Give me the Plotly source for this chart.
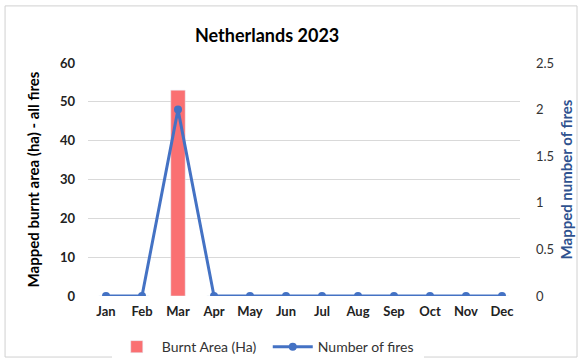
import plotly.graph_objects as go

months = ["Jan", "Feb", "Mar", "Apr", "May", "Jun", "Jul", "Aug", "Sep", "Oct", "Nov", "Dec"]
burnt_area = [0, 0, 53, 0, 0, 0, 0, 0, 0, 0, 0, 0]
num_fires = [0, 0, 2, 0, 0, 0, 0, 0, 0, 0, 0, 0]
left_ticks = [0, 10, 20, 30, 40, 50, 60]
right_ticks = [0, 0.5, 1, 1.5, 2, 2.5]
right_tick_text = ["0", "0.5", "1", "1.5", "2", "2.5"]

FONT = "Lato, 'Open Sans', sans-serif"

fig = go.Figure()
fig.add_trace(go.Bar(x=months, y=burnt_area, name="Burnt Area (Ha)",
                     marker=dict(color="rgb(250,112,114)"), width=0.4, yaxis="y"))
fig.add_trace(go.Scatter(x=months, y=num_fires, name="Number of fires", yaxis="y2",
                         mode="lines+markers",
                         line=dict(color="rgb(68,114,196)", width=3),
                         marker=dict(size=8, color="rgb(68,114,196)")))

fig.update_layout(
    width=582, height=361,
    margin=dict(l=88, r=62, t=63, b=65, autoexpand=False),
    paper_bgcolor="white", plot_bgcolor="white",
    font=dict(family=FONT, color="#222"),
    title=dict(text="<b>Netherlands 2023</b>", x=0.459, xanchor="center", xref="container",
               y=0.9, yref="container", yanchor="middle", automargin=False,
               font=dict(size=18, color="black")),
    showlegend=True,
    legend=dict(orientation="h", x=0.055, xanchor="left", y=-0.219, yanchor="middle",
                font=dict(size=14, color="#333"), itemwidth=40, traceorder="normal",
                entrywidth=101, entrywidthmode="pixels"),
    bargap=0.6,
    xaxis=dict(range=[-0.5, 11.5], showgrid=False, zeroline=False, showline=False, ticks="",
               automargin=False,
               tickfont=dict(size=13, color="#222", family=FONT, weight="bold"),
               ticklabelstandoff=6),
    yaxis=dict(range=[0, 60], tickvals=left_ticks, showgrid=True, gridcolor="#d9d9d9",
               zeroline=False, showline=False, ticks="", automargin=False,
               tickfont=dict(size=13, color="#222", family=FONT, weight="bold"),
               ticklabelstandoff=12,
               title=dict(text="<b>Mapped burnt area (ha) - all fires</b>",
                          font=dict(size=15, color="black"), standoff=16)),
    yaxis2=dict(range=[0, 2.5], tickvals=right_ticks, ticktext=right_tick_text,
                overlaying="y", side="right", showgrid=False, zeroline=False,
                showline=False, ticks="", automargin=False,
                tickfont=dict(size=13, color="#333", family=FONT),
                ticklabelstandoff=15,
                title=dict(text="<b>Mapped number of fires</b>",
                           font=dict(size=15, color="rgb(47,82,143)"), standoff=8)),
)

fig.add_shape(type="rect", xref="paper", yref="paper",
              x0=-0.192, x1=1.132, y0=-0.262, y1=1.245,
              line=dict(color="#d0d0d0", width=1), fillcolor="rgba(0,0,0,0)", layer="below")

fig.write_html("out.html", config={"displayModeBar": False},
               post_script="document.body.style.margin='0';document.body.style.padding='0';document.body.style.overflow='hidden';")
